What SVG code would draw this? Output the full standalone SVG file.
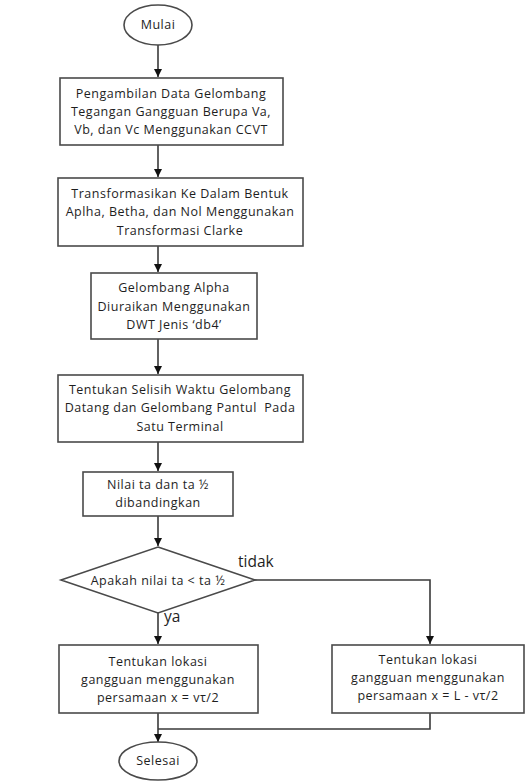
<svg xmlns="http://www.w3.org/2000/svg" width="526" height="782" viewBox="0 0 526 782">
<defs>
<style>
.n{fill:#fff;stroke:#4a4a4a;stroke-width:1.6}
.t{font-family:"Open Sans","Liberation Sans",sans-serif;font-size:12.5px;fill:#1e1e1e;text-anchor:middle;letter-spacing:0.5px}
.l{font-family:"Open Sans","Liberation Sans",sans-serif;font-size:15.5px;fill:#1e1e1e}
.c{fill:none;stroke:#3a3a3a;stroke-width:1.6}
</style>
<marker id="a" viewBox="0 0 10 10" refX="10" refY="5" markerWidth="8" markerHeight="8" orient="auto" markerUnits="userSpaceOnUse">
<path d="M0,0 L10,5 L0,10 z" fill="#111"/>
</marker>
</defs>
<rect width="526" height="782" fill="#fff"/>
<g id="connectors">
<path class="c" d="M158,45 V77" marker-end="url(#a)"/>
<path class="c" d="M158,145 V177" marker-end="url(#a)"/>
<path class="c" d="M158,246 V272" marker-end="url(#a)"/>
<path class="c" d="M158,339 V374" marker-end="url(#a)"/>
<path class="c" d="M158,442 V471" marker-end="url(#a)"/>
<path class="c" d="M158,516 V546" marker-end="url(#a)"/>
<path class="c" d="M158,613 V644" marker-end="url(#a)"/>
<path class="c" d="M255,580 H430 V644" marker-end="url(#a)"/>
<path class="c" d="M158,713 V742" marker-end="url(#a)"/>
<path class="c" d="M430,713 V729 H158"/>
</g>
<g id="mulai">
<ellipse class="n" cx="158" cy="25" rx="34" ry="20"/>
<text class="t" x="158" y="29">Mulai</text>
</g>
<g id="box1">
<rect class="n" x="60" y="78" width="223" height="67"/>
<text class="t" x="171" y="98">Pengambilan Data Gelombang</text>
<text class="t" x="171" y="116">Tegangan Gangguan Berupa Va,</text>
<text class="t" x="171" y="134">Vb, dan Vc Menggunakan CCVT</text>
</g>
<g id="box2">
<rect class="n" x="58" y="178" width="245" height="68"/>
<text class="t" x="180" y="198">Transformasikan Ke Dalam Bentuk</text>
<text class="t" x="180" y="216">Aplha, Betha, dan Nol Menggunakan</text>
<text class="t" x="180" y="235">Transformasi Clarke</text>
</g>
<g id="box3">
<rect class="n" x="91" y="273" width="166" height="66"/>
<text class="t" x="174" y="292">Gelombang Alpha</text>
<text class="t" x="174" y="311">Diuraikan Menggunakan</text>
<text class="t" x="174" y="329">DWT Jenis ‘db4’</text>
</g>
<g id="box4">
<rect class="n" x="58" y="375" width="245" height="67"/>
<text class="t" x="180" y="394">Tentukan Selisih Waktu Gelombang</text>
<text class="t" x="180" y="412" xml:space="preserve">Datang dan Gelombang Pantul  Pada</text>
<text class="t" x="180" y="431">Satu Terminal</text>
</g>
<g id="box5">
<rect class="n" x="83" y="472" width="150" height="44"/>
<text class="t" x="158" y="489">Nilai ta dan ta ½</text>
<text class="t" x="158" y="507">dibandingkan</text>
</g>
<g id="decision">
<polygon class="n" points="158,547 255,580 158,613 61,580"/>
<text class="t" x="158" y="585">Apakah nilai ta &lt; ta ½</text>
</g>
<text class="l" x="238" y="567">tidak</text>
<text class="l" x="164" y="622">ya</text>
<g id="box7">
<rect class="n" x="59" y="645" width="199" height="68"/>
<text class="t" x="158" y="666">Tentukan lokasi</text>
<text class="t" x="158" y="684">gangguan menggunakan</text>
<text class="t" x="158" y="702">persamaan x = vτ/2</text>
</g>
<g id="box6">
<rect class="n" x="332" y="645" width="192" height="68"/>
<text class="t" x="428" y="664">Tentukan lokasi</text>
<text class="t" x="428" y="682">gangguan menggunakan</text>
<text class="t" x="428" y="700">persamaan x = L - vτ/2</text>
</g>
<g id="selesai">
<ellipse class="n" cx="158" cy="761" rx="39" ry="19"/>
<text class="t" x="158" y="765">Selesai</text>
</g>
</svg>
